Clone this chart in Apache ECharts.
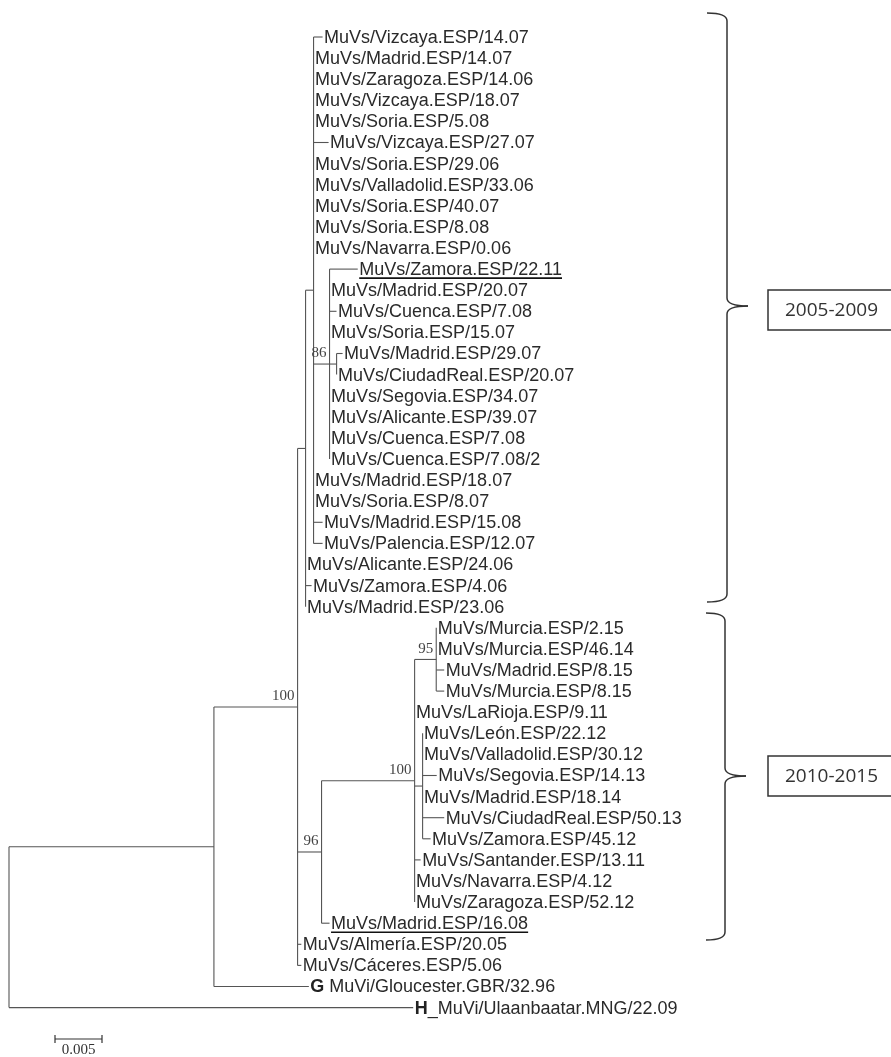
<!DOCTYPE html>
<html><head><meta charset="utf-8">
<script src="https://cdn.jsdelivr.net/npm/echarts@6/dist/echarts.min.js"></script>
<style>html,body{margin:0;padding:0;background:#fff}#c{width:891px;height:1057px}</style>
</head><body><div id="c"></div>
<script>
// ---- DATA ----
const leafNames = [
  'MuVs/Vizcaya.ESP/14.07','MuVs/Madrid.ESP/14.07','MuVs/Zaragoza.ESP/14.06','MuVs/Vizcaya.ESP/18.07',
  'MuVs/Soria.ESP/5.08','MuVs/Vizcaya.ESP/27.07','MuVs/Soria.ESP/29.06','MuVs/Valladolid.ESP/33.06',
  'MuVs/Soria.ESP/40.07','MuVs/Soria.ESP/8.08','MuVs/Navarra.ESP/0.06','MuVs/Zamora.ESP/22.11',
  'MuVs/Madrid.ESP/20.07','MuVs/Cuenca.ESP/7.08','MuVs/Soria.ESP/15.07','MuVs/Madrid.ESP/29.07',
  'MuVs/CiudadReal.ESP/20.07','MuVs/Segovia.ESP/34.07','MuVs/Alicante.ESP/39.07','MuVs/Cuenca.ESP/7.08',
  'MuVs/Cuenca.ESP/7.08/2','MuVs/Madrid.ESP/18.07','MuVs/Soria.ESP/8.07','MuVs/Madrid.ESP/15.08',
  'MuVs/Palencia.ESP/12.07','MuVs/Alicante.ESP/24.06','MuVs/Zamora.ESP/4.06','MuVs/Madrid.ESP/23.06',
  'MuVs/Murcia.ESP/2.15','MuVs/Murcia.ESP/46.14','MuVs/Madrid.ESP/8.15','MuVs/Murcia.ESP/8.15',
  'MuVs/LaRioja.ESP/9.11','MuVs/León.ESP/22.12','MuVs/Valladolid.ESP/30.12','MuVs/Segovia.ESP/14.13',
  'MuVs/Madrid.ESP/18.14','MuVs/CiudadReal.ESP/50.13','MuVs/Zamora.ESP/45.12','MuVs/Santander.ESP/13.11',
  'MuVs/Navarra.ESP/4.12','MuVs/Zaragoza.ESP/52.12','MuVs/Madrid.ESP/16.08','MuVs/Almería.ESP/20.05',
  'MuVs/Cáceres.ESP/5.06','G MuVi/Gloucester.GBR/32.96','H_MuVi/Ulaanbaatar.MNG/22.09'
];
const leafParent = [
  'E','E','E','E','E','E','E','E','E','E','E','C',
  'C','C','C','D','D','C','C','C','C','E','E','E',
  'E','F','F','F','I','I','I','I','H100','J','J','J',
  'J','J','J','H100','H100','H100','G96','B','B','A','R'
];
const leafLength = [
  0.00096,0,0,0,0,0.0016,0,0,0,0,0,0.003,
  0,0.00074,0,0.00064,0,0,0,0,0,0,0,0.00096,
  0.00096,0,0.00064,0,0,0,0.00085,0.00085,0,0,0,0.0015,
  0,0.0023,0.00085,0.00064,0,0,0.00085,0.0004,0.0004,0.0101,0.043
];
const nodeIds     = ['R','A','B','F','E','C','D','G96','H100','I','J'];
const nodeParent  = [null,'R','A','B','F','E','C','B','G96','H100','H100'];
const nodeLength  = [0,0.0218,0.0089,0.00085,0.00085,0.0017,0.00075,0.00255,0.0099,0.0023,0.00085];
const nodeSupport = ['','','100','','','86','','96','100','95',''];
const underlinedLeaves = ['MuVs/Zamora.ESP/22.11','MuVs/Madrid.ESP/16.08'];
const periodLabels = ['2005-2009','2010-2015'];
const scaleBarLength = 0.005;
const scaleBarLabel = '0.005';

// ---- LAYOUT (derived) ----
const nodeX = {};
nodeIds.forEach((id, k) => { nodeX[id] = nodeParent[k] ? nodeX[nodeParent[k]] + nodeLength[k] : 0; });
const leafX = leafNames.map((n, i) => nodeX[leafParent[i]] + leafLength[i]);
const childYs = {};
const yMemo = {};
function nodeY(id) {
  if (yMemo[id] !== undefined) return yMemo[id];
  const ys = [];
  leafParent.forEach((p, i) => { if (p === id) ys.push(i); });
  nodeIds.forEach((c, k) => { if (nodeParent[k] === id) ys.push(nodeY(c)); });
  childYs[id] = ys;
  yMemo[id] = (Math.min(...ys) + Math.max(...ys)) / 2;
  return yMemo[id];
}
nodeIds.forEach(nodeY);

const segments = [];
leafNames.forEach((n, i) => segments.push([nodeX[leafParent[i]], i, leafX[i], i]));
nodeIds.forEach((id, k) => {
  if (nodeParent[k]) segments.push([nodeX[nodeParent[k]], yMemo[id], nodeX[id], yMemo[id]]);
  const ys = childYs[id];
  segments.push([nodeX[id], Math.min(...ys), nodeX[id], Math.max(...ys)]);
});

const FONT = '"Liberation Sans", Arial, sans-serif';
const SERIF = '"Liberation Serif", "Times New Roman", serif';
const ctx = document.createElement('canvas').getContext('2d');
ctx.font = '18px "Liberation Sans"';

const chart = echarts.init(document.getElementById('c'), null, {renderer: 'canvas'});
chart.setOption({
  animation: false,
  backgroundColor: '#fff',
  grid: {left: 9, top: 37, width: 470, height: 970.6, containLabel: false},
  xAxis: {type: 'value', min: 0, max: 0.05, show: false},
  yAxis: {type: 'value', min: 0, max: 46, inverse: true, show: false},
  series: [
    {
      type: 'custom', clip: false, silent: true,
      data: segments,
      encode: {x: [0, 2], y: [1, 3]},
      renderItem: (params, api) => {
        const s = segments[params.dataIndex];
        const a = api.coord([s[0], s[1]]), b = api.coord([s[2], s[3]]);
        return {type: 'line', shape: {x1: a[0], y1: a[1], x2: b[0], y2: b[1]},
          style: {stroke: '#555', lineWidth: 1.1}};
      }
    },
    {
      type: 'custom', clip: false, silent: true,
      data: leafNames.map((n, i) => [leafX[i], i]),
      encode: {x: 0, y: 1},
      renderItem: (params, api) => {
        const i = params.dataIndex;
        const p = api.coord([leafX[i], i]);
        const name = leafNames[i];
        const m = /^([GH])([ _].*)$/.exec(name);
        const children = [{
          type: 'text', x: p[0] + 1.5, y: p[1] + 1,
          style: {
            text: m ? '{b|' + m[1] + '}' + m[2] : name,
            rich: {b: {fontWeight: 'bold', fontSize: 18, fontFamily: FONT, fill: '#222'}},
            fontSize: 18, fontFamily: FONT, fill: '#2a2a2a',
            align: 'left', verticalAlign: 'middle'
          }
        }];
        if (underlinedLeaves.includes(name)) {
          const w = ctx.measureText(name).width;
          children.push({type: 'line', shape: {x1: p[0] + 1.5, y1: p[1] + 9, x2: p[0] + 1.5 + w, y2: p[1] + 9},
            style: {stroke: '#111', lineWidth: 1.6}});
        }
        return {type: 'group', children};
      }
    },
    {
      type: 'custom', clip: false, silent: true,
      data: nodeIds.map(id => [nodeX[id], yMemo[id]]),
      encode: {x: 0, y: 1},
      renderItem: (params, api) => {
        const k = params.dataIndex;
        if (!nodeSupport[k]) return null;
        const p = api.coord([nodeX[nodeIds[k]], yMemo[nodeIds[k]]]);
        return {type: 'text', x: p[0] - 3, y: p[1] - 3,
          style: {text: nodeSupport[k], fontSize: 15, fontFamily: SERIF, fill: '#444',
            align: 'right', verticalAlign: 'bottom'}};
      }
    }
  ]
});

// ---- annotations ----
const x0 = chart.convertToPixel({xAxisIndex: 0}, 0);
const x1 = chart.convertToPixel({xAxisIndex: 0}, scaleBarLength);
const barLen = x1 - x0;
const sbx = 55, sby = 1039;
const stroke = {stroke: '#333', lineWidth: 1.5, fill: null};
function brace(xl, xv, xt, yTop, yMid, yBot) {
  return [
    {type: 'bezierCurve', shape: {x1: xl, y1: yTop, cpx1: xv, cpy1: yTop, x2: xv, y2: yTop + 8}, style: stroke},
    {type: 'line', shape: {x1: xv, y1: yTop + 8, x2: xv, y2: yMid - 8}, style: stroke},
    {type: 'bezierCurve', shape: {x1: xv, y1: yMid - 8, cpx1: xv, cpy1: yMid, x2: xt, y2: yMid}, style: stroke},
    {type: 'bezierCurve', shape: {x1: xt, y1: yMid, cpx1: xv, cpy1: yMid, x2: xv, y2: yMid + 8}, style: stroke},
    {type: 'line', shape: {x1: xv, y1: yMid + 8, x2: xv, y2: yBot - 8}, style: stroke},
    {type: 'bezierCurve', shape: {x1: xv, y1: yBot - 8, cpx1: xv, cpy1: yBot, x2: xl, y2: yBot}, style: stroke}
  ];
}
const boxFont = '"Open Sans", "Noto Sans", sans-serif';
chart.setOption({
  graphic: [].concat(
    brace(707, 727, 748, 13, 306, 602),
    brace(706, 725, 746, 613, 776, 940),
    [
      {type: 'rect', shape: {x: 768, y: 290, width: 130, height: 40}, style: stroke},
      {type: 'rect', shape: {x: 768, y: 756, width: 130, height: 40}, style: stroke},
      {type: 'text', x: 785, y: 311, style: {text: periodLabels[0], fontSize: 19, fontFamily: boxFont, fill: '#333', verticalAlign: 'middle'}},
      {type: 'text', x: 785, y: 777, style: {text: periodLabels[1], fontSize: 19, fontFamily: boxFont, fill: '#333', verticalAlign: 'middle'}},
      {type: 'line', shape: {x1: sbx, y1: sby, x2: sbx + barLen, y2: sby}, style: {stroke: '#333', lineWidth: 1.2}},
      {type: 'line', shape: {x1: sbx, y1: sby - 4, x2: sbx, y2: sby + 4}, style: {stroke: '#333', lineWidth: 1.2}},
      {type: 'line', shape: {x1: sbx + barLen, y1: sby - 4, x2: sbx + barLen, y2: sby + 4}, style: {stroke: '#333', lineWidth: 1.2}},
      {type: 'text', x: sbx + barLen / 2, y: sby + 11, style: {text: scaleBarLabel, fontSize: 15, fontFamily: SERIF, fill: '#333', align: 'center', verticalAlign: 'middle'}}
    ]
  )
});
</script>
</body></html>
